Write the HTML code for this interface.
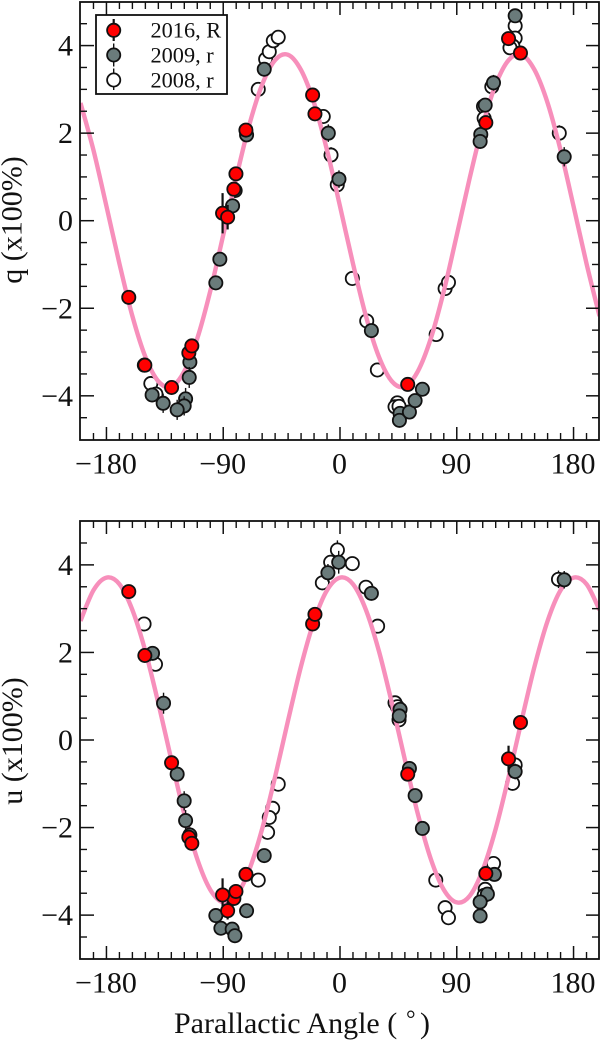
<!DOCTYPE html>
<html lang="en">
<head>
<meta charset="utf-8">
<title>Parallactic Angle Chart</title>
<style>
html,body{margin:0;padding:0;background:#fff;width:602px;height:1041px;overflow:hidden}
svg{display:block;filter:blur(0.35px)}
text{font-family:"Liberation Serif","Times New Roman",serif;fill:#111}
</style>
</head>
<body>
<svg id="chart" xmlns="http://www.w3.org/2000/svg" width="602" height="1041" viewBox="0 0 602 1041">
  <defs>
    <clipPath id="clip-q"><rect x="80" y="2" width="519" height="438"/></clipPath>
    <clipPath id="clip-u"><rect x="80" y="521" width="519" height="438"/></clipPath>
  </defs>
  <g id="panel-q"></g>
  <g id="panel-u"></g>

  <text transform="translate(21.5,220) rotate(-90)" text-anchor="middle" font-size="30">q (x100%)</text>
  <text transform="translate(22,741) rotate(-90)" text-anchor="middle" font-size="30">u (x100%)</text>
  <text x="174" y="1033" font-size="30">Parallactic Angle (<tspan x="406" y="1027" font-size="24">°</tspan><tspan x="420" y="1033">)</tspan></text>

  <g id="legend">
    <rect x="96" y="15" width="131" height="79" fill="#fff" stroke="#111" stroke-width="1.8"/>
    <g>
      <line x1="113.7" x2="113.7" y1="19" y2="41" stroke="#111" stroke-width="2.2"/>
      <circle cx="113.7" cy="30.3" r="6.6" fill="#ff0000" stroke="#111" stroke-width="1.8"/>
      <text x="150.5" y="37.7" font-size="22.3">2016, R</text>
    </g>
    <g>
      <line x1="113.7" x2="113.7" y1="43.5" y2="66.5" stroke="#111" stroke-width="1.4"/>
      <circle cx="113.7" cy="55" r="6.6" fill="#6a7b7b" stroke="#111" stroke-width="1.8"/>
      <text x="150.5" y="62.5" font-size="22.3">2009, r</text>
    </g>
    <g>
      <line x1="113.7" x2="113.7" y1="68.5" y2="90" stroke="#111" stroke-width="1.4"/>
      <circle cx="113.7" cy="80" r="6.6" fill="#fff" stroke="#111" stroke-width="1.8"/>
      <text x="150.5" y="87.3" font-size="22.3">2008, r</text>
    </g>
  </g>
</svg>
<script>
// Axis tick values
var xMajorTicks = [-180, -90, 0, 90, 180];
var xTickLabels = ["\u2212180", "\u221290", "0", "90", "180"];
var xMinorTicks = [-190,-170,-160,-150,-140,-130,-120,-110,-100,-80,-70,-60,-50,-40,-30,-20,-10,10,20,30,40,50,60,70,80,100,110,120,130,140,150,160,170,190];
var yMajorTicks = [-4, -2, 0, 2, 4];
var yTickLabels = ["\u22124", "\u22122", "0", "2", "4"];
var yMinorTicks = [-4.5,-3.5,-3,-2.5,-1.5,-1,-0.5,0.5,1,1.5,2.5,3,3.5,4.5];

// Model curves
var curveAngles = [-200,-190,-180,-170,-160,-150,-140,-130,-120,-110,-100,-90,-80,-70,-60,-50,-40,-30,-20,-10,0,10,20,30,40,50,60,70,80,90,100,110,120,130,140,150,160,170,180,190,200];
var curveQ = [2.69,1.61,0.33,-0.98,-2.18,-3.11,-3.67,-3.79,-3.44,-2.69,-1.61,-0.33,0.98,2.18,3.11,3.67,3.79,3.44,2.69,1.61,0.33,-0.98,-2.18,-3.11,-3.67,-3.79,-3.44,-2.69,-1.61,-0.33,0.98,2.18,3.11,3.67,3.79,3.44,2.69,1.61,0.33,-0.98,-2.18];
var curveU = [2.72,3.42,3.71,3.56,2.97,2.03,0.84,-0.45,-1.69,-2.72,-3.42,-3.71,-3.56,-2.97,-2.03,-0.84,0.45,1.69,2.72,3.42,3.71,3.56,2.97,2.03,0.84,-0.45,-1.69,-2.72,-3.42,-3.71,-3.56,-2.97,-2.03,-0.84,0.45,1.69,2.72,3.42,3.71,3.56,2.97];

// 2016, R
var red2016Angle = [-72.5,-81.8,-80.2,-90.5,-86.6,-162.8,-150.4,-129.8,-116.5,-114.2,-21.1,-19.3,112.4,129.9,139.1,52.2];
var red2016Q = [2.07,0.72,1.07,0.17,0.08,-1.75,-3.30,-3.81,-3.02,-2.86,2.87,2.44,2.24,4.16,3.83,-3.74];
var red2016QErr = [0.12,0.12,0.12,0.46,0.28,0.1,0.1,0.1,0.1,0.1,0.1,0.1,0.12,0.14,0.1,0.1];
var red2016U = [-3.07,-3.62,-3.46,-3.54,-3.90,3.39,1.93,-0.52,-2.22,-2.36,2.65,2.87,-3.05,-0.43,0.40,-0.78];
var red2016UErr = [0.1,0.1,0.1,0.38,0.2,0.1,0.1,0.1,0.1,0.1,0.1,0.1,0.1,0.3,0.1,0.1];

// 2009, r
var gray2009QAngle = [-82.8,-72,-58.4,-92.6,-95.7,-115.7,-116.2,-119,-120.1,-125.5,-136.3,-144.8,-150.8,-9,-0.8,108.5,108,111.9,118.3,135,172.8,24.2,46.3,45.8,53.5,57.9,63.5];
var gray2009Q = [0.34,1.96,3.46,-0.88,-1.42,-3.23,-3.58,-4.07,-4.23,-4.32,-4.17,-3.98,-3.30,2.00,0.95,1.97,1.81,2.64,3.15,4.68,1.46,-2.51,-4.40,-4.56,-4.37,-4.11,-3.85];
var gray2009QErr = [0.16,0.12,0.12,0.12,0.12,0.2,0.24,0.25,0.22,0.23,0.22,0.12,0.1,0.2,0.2,0.12,0.12,0.12,0.18,0.1,0.22,0.12,0.1,0.1,0.1,0.1,0.1];
var gray2009UAngle = [-144.5,-136,-125.5,-120.1,-119,-115.7,-95.7,-91.8,-83.1,-81,-72,-58.4,-9.3,-1,24.2,46.3,45.7,53.5,135,172.8,57.9,63.5,119,113.6,108,108];
var gray2009U = [1.98,0.84,-0.78,-1.39,-1.84,-2.17,-4.01,-4.30,-4.32,-4.47,-3.90,-2.64,3.82,4.06,3.35,0.70,0.55,-0.65,-0.72,3.66,-1.27,-2.02,-3.07,-3.52,-3.70,-4.02];
var gray2009UErr = [0.12,0.24,0.12,0.22,0.24,0.18,0.1,0.1,0.1,0.1,0.1,0.1,0.2,0.26,0.1,0.12,0.12,0.12,0.18,0.2,0.1,0.1,0.1,0.1,0.1,0.1];

// 2008, r
var open2008QAngle = [-80.8,-63,-57.3,-54.5,-51.4,-47.6,-145.8,-141.9,-12.9,-6.9,-2.1,117,110.6,111.1,135,135,133.2,131,169,9.5,20.6,28.8,74.1,81,83.6,44.2,42.4,45.5];
var open2008Q = [0.69,3.00,3.69,3.86,4.11,4.19,-3.72,-3.96,2.38,1.50,0.82,3.06,2.61,2.34,4.45,4.17,3.99,3.95,2.00,-1.32,-2.29,-3.41,-2.60,-1.55,-1.41,-4.16,-4.25,-4.24];
var open2008QErr = [0.1,0.1,0.1,0.1,0.1,0.1,0.1,0.1,0.1,0.18,0.2,0.1,0.1,0.1,0.1,0.1,0.1,0.1,0.18,0.1,0.1,0.1,0.1,0.1,0.1,0.1,0.1,0.1];
var open2008UAngle = [-151,-142.2,-2,-7.2,-13.6,9.5,20,29,42.4,44.2,45.5,135,133,168.4,-47.6,-51.9,-54.5,-55.8,-63,73.8,81,83.6,118.3,111.9,111.1];
var open2008U = [2.65,1.73,4.34,4.06,3.59,4.03,3.49,2.60,0.85,0.76,0.46,-0.57,-0.99,3.67,-1.01,-1.56,-1.77,-2.11,-3.20,-3.20,-3.83,-4.06,-2.82,-3.41,-3.55];
var open2008UErr = [0.1,0.1,0.22,0.1,0.1,0.1,0.1,0.1,0.1,0.1,0.1,0.12,0.12,0.2,0.1,0.1,0.1,0.1,0.1,0.1,0.1,0.1,0.1,0.1,0.1];

var NS = "http://www.w3.org/2000/svg";
var INK = "#111";

function make(parent, tag, attrs) {
  var el = document.createElementNS(NS, tag);
  for (var k in attrs) el.setAttribute(k, attrs[k]);
  parent.appendChild(el);
  return el;
}
function xScale(angle) { return 340 + angle * 1.2975; }
function yScaleFor(center) {
  return function (v) { return center - v * 43.78; };
}
function smoothPath(xs, ys) {
  var d = "M" + xs[0].toFixed(2) + " " + ys[0].toFixed(2);
  for (var i = 0; i < xs.length - 1; i++) {
    var i0 = Math.max(0, i - 1), i3 = Math.min(xs.length - 1, i + 2);
    var c1x = xs[i] + (xs[i + 1] - xs[i0]) / 6, c1y = ys[i] + (ys[i + 1] - ys[i0]) / 6;
    var c2x = xs[i + 1] - (xs[i3] - xs[i]) / 6, c2y = ys[i + 1] - (ys[i3] - ys[i]) / 6;
    d += "C" + c1x.toFixed(2) + " " + c1y.toFixed(2) + " " + c2x.toFixed(2) + " " + c2y.toFixed(2) + " " + xs[i + 1].toFixed(2) + " " + ys[i + 1].toFixed(2);
  }
  return d;
}
function drawSeries(parent, yS, angles, values, errs, fill, barWidth, name) {
  for (var i = 0; i < angles.length; i++) {
    var cx = xScale(angles[i]), cy = yS(values[i]);
    var g = make(parent, "g", {});
    
    
    make(g, "line", { x1: cx, x2: cx, y1: yS(values[i] + errs[i]), y2: yS(values[i] - errs[i]), stroke: "#111", "stroke-width": barWidth });
    make(g, "circle", { cx: cx, cy: cy, r: 6.6, fill: fill, stroke: "#111", "stroke-width": 1.8 });
  }
}
function drawPanel(id, top, bottom, center, clipId, curve, opts) {
  var root = document.getElementById(id);
  var yS = yScaleFor(center);
  var left = 80, right = 599;

  make(root, "rect", { x: left, y: top, width: right - left, height: bottom - top, fill: "#fff" });

  var openG = make(root, "g", { "clip-path": "url(#" + clipId + ")" });
  drawSeries(openG, yS, opts.openA, opts.openV, opts.openE, "#ffffff", 1.4, "point-2008");

  var curveEl = make(root, "path", {
    d: smoothPath(curveAngles.map(xScale), curve.map(yS)),
    fill: "none", stroke: "#f78fbb", "stroke-width": 4.4, "clip-path": "url(#" + clipId + ")"
  });
  
  

  var marks = make(root, "g", {});
  drawSeries(marks, yS, opts.grayA, opts.grayV, opts.grayE, "#6a7b7b", 1.4, "point-2009");
  drawSeries(marks, yS, red2016Angle, opts.redV, opts.redE, "#ff0000", 2.2, "point-2016");

  var axes = make(root, "g", {});
  
  
  make(axes, "rect", { x: left, y: top, width: right - left, height: bottom - top, fill: "none", stroke: INK, "stroke-width": 1.8 });

  xMinorTicks.forEach(function (t) {
    var x = xScale(t);
    make(axes, "line", { x1: x, x2: x, y1: bottom, y2: bottom - 7, stroke: INK, "stroke-width": 1.4 });
    make(axes, "line", { x1: x, x2: x, y1: top, y2: top + 7, stroke: INK, "stroke-width": 1.4 });
  });
  xMajorTicks.forEach(function (t, i) {
    var x = xScale(t);
    make(axes, "line", { x1: x, x2: x, y1: bottom, y2: bottom - 13, stroke: INK, "stroke-width": 1.5 });
    make(axes, "line", { x1: x, x2: x, y1: top, y2: top + 13, stroke: INK, "stroke-width": 1.5 });
    var label = make(axes, "text", { x: x - 0.5, y: bottom + 33.5, "text-anchor": "middle", "font-size": 30 });
    
    
    label.textContent = xTickLabels[i];
  });
  yMinorTicks.forEach(function (t) {
    var y = yS(t);
    make(axes, "line", { x1: left, x2: left + 7, y1: y, y2: y, stroke: INK, "stroke-width": 1.4 });
    make(axes, "line", { x1: right, x2: right - 7, y1: y, y2: y, stroke: INK, "stroke-width": 1.4 });
  });
  yMajorTicks.forEach(function (t, i) {
    var y = yS(t);
    make(axes, "line", { x1: left, x2: left + 14, y1: y, y2: y, stroke: INK, "stroke-width": 1.5 });
    make(axes, "line", { x1: right, x2: right - 13, y1: y, y2: y, stroke: INK, "stroke-width": 1.5 });
    var label = make(axes, "text", { x: 73, y: y + 10, "text-anchor": "end", "font-size": 30 });
    
    
    label.textContent = yTickLabels[i];
  });
}

drawPanel("panel-q", 2, 440, 220.7, "clip-q", curveQ, {
  openA: open2008QAngle, openV: open2008Q, openE: open2008QErr,
  grayA: gray2009QAngle, grayV: gray2009Q, grayE: gray2009QErr,
  redV: red2016Q, redE: red2016QErr
});
drawPanel("panel-u", 521, 959, 740, "clip-u", curveU, {
  openA: open2008UAngle, openV: open2008U, openE: open2008UErr,
  grayA: gray2009UAngle, grayV: gray2009U, grayE: gray2009UErr,
  redV: red2016U, redE: red2016UErr
});

// Keep the legend above the panel marks
var svgRoot = document.getElementById("chart");
svgRoot.appendChild(document.getElementById("legend"));
</script>
</body>
</html>
